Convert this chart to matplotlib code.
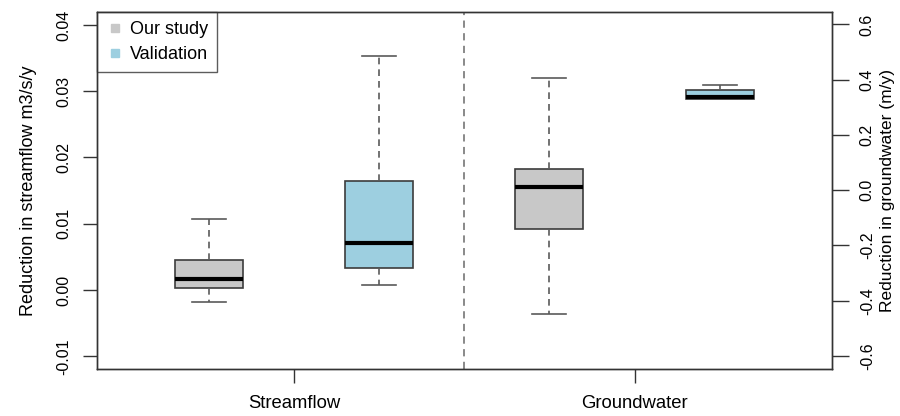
import matplotlib
matplotlib.use("Agg")
import matplotlib.pyplot as plt
from matplotlib.lines import Line2D

plt.rcParams['font.family'] = ['Liberation Sans', 'DejaVu Sans']

groups = ["Streamflow", "Groundwater"]
series = ["Our study", "Validation"]
# five-number summaries: whislo, q1, med, q3, whishi
streamflow_our = [-0.00186, 0.0003, 0.00166, 0.0045, 0.0107]
streamflow_val = [0.0008, 0.00327, 0.0071, 0.0164, 0.0353]
groundwater_our = [-0.447, -0.142, 0.012, 0.0786, 0.407]
groundwater_val = [0.330, 0.332, 0.336, 0.362, 0.380]
left_ticks = [-0.01, 0.00, 0.01, 0.02, 0.03, 0.04]
right_ticks = [-0.6, -0.4, -0.2, 0.0, 0.2, 0.4, 0.6]

fill_colors = ["#c8c8c8", "#9dcfe0"]
edge = "#3c3c3c"
whisk = "#5a5a5a"

def stats(v):
    return dict(whislo=v[0], q1=v[1], med=v[2], q3=v[3], whishi=v[4], fliers=[])

W, H = 900, 416
fig = plt.figure(figsize=(9, 4.16), dpi=100)
x0, x1, y0, y1 = 96.7, 832, 12.3, 369
ax = fig.add_axes([x0 / W, (H - y1) / H, (x1 - x0) / W, (y1 - y0) / H])
ax2 = ax.twinx()

def draw(a, data, positions):
    a.bxp([stats(d) for d in data], positions=positions, widths=0.4,
          patch_artist=True, showfliers=False,
          boxprops=dict(edgecolor=edge, linewidth=1.2),
          whiskerprops=dict(color=whisk, linewidth=1.2, linestyle=(0, (4, 3))),
          capprops=dict(color=whisk, linewidth=1.2),
          medianprops=dict(color="black", linewidth=3, solid_capstyle="butt"),
          capwidths=0.2, manage_ticks=False)

draw(ax, [streamflow_our, streamflow_val], [1, 2])
draw(ax2, [groundwater_our, groundwater_val], [3, 4])
for a in (ax, ax2):
    for p, c in zip(a.patches, fill_colors):
        p.set_facecolor(c)

ax.set_xlim(0.34, 4.66)
ax.set_ylim(-0.0119, 0.0419)
ax2.set_ylim(-0.647, 0.644)

ax.axvline(2.5, color="#808080", linestyle=(0, (4, 3)), linewidth=1.3)

ax.set_xticks([1.5, 3.5])
ax.set_xticklabels(groups, fontsize=13.3)
ax.set_yticks(left_ticks)
ax.set_yticklabels([f"{t:.2f}" for t in left_ticks], rotation=90, va="center", fontsize=11.5)
ax2.set_yticks(right_ticks)
ax2.set_yticklabels([f"{t:.1f}" for t in right_ticks], rotation=90, va="center", fontsize=11.5)
ax.tick_params(axis="x", length=10, width=1, color="#333333", pad=9)
ax.tick_params(axis="y", length=10, width=1, color="#333333", pad=8)
ax2.tick_params(axis="y", length=12, width=1, color="#333333", pad=8)

ax.set_ylabel("Reduction in streamflow m3/s/y", fontsize=13, labelpad=14)
ax2.set_ylabel("Reduction in groundwater (m/y)", fontsize=12.5, labelpad=4)

for a in (ax, ax2):
    for s in a.spines.values():
        s.set_color("#333333")
        s.set_linewidth(1)

handles = [Line2D([], [], marker="s", linestyle="none", markersize=6,
                  markerfacecolor=c, markeredgecolor=c) for c in fill_colors]
leg = ax.legend(handles, series, loc="upper left", fontsize=13,
                frameon=True, fancybox=False, borderaxespad=0,
                handletextpad=0.35, borderpad=0.5, labelspacing=0.45,
                handlelength=1.0)
leg.get_frame().set_edgecolor("#333333")
leg.get_frame().set_linewidth(1)
leg.set_zorder(10)

fig.savefig("out.png", dpi=100)
